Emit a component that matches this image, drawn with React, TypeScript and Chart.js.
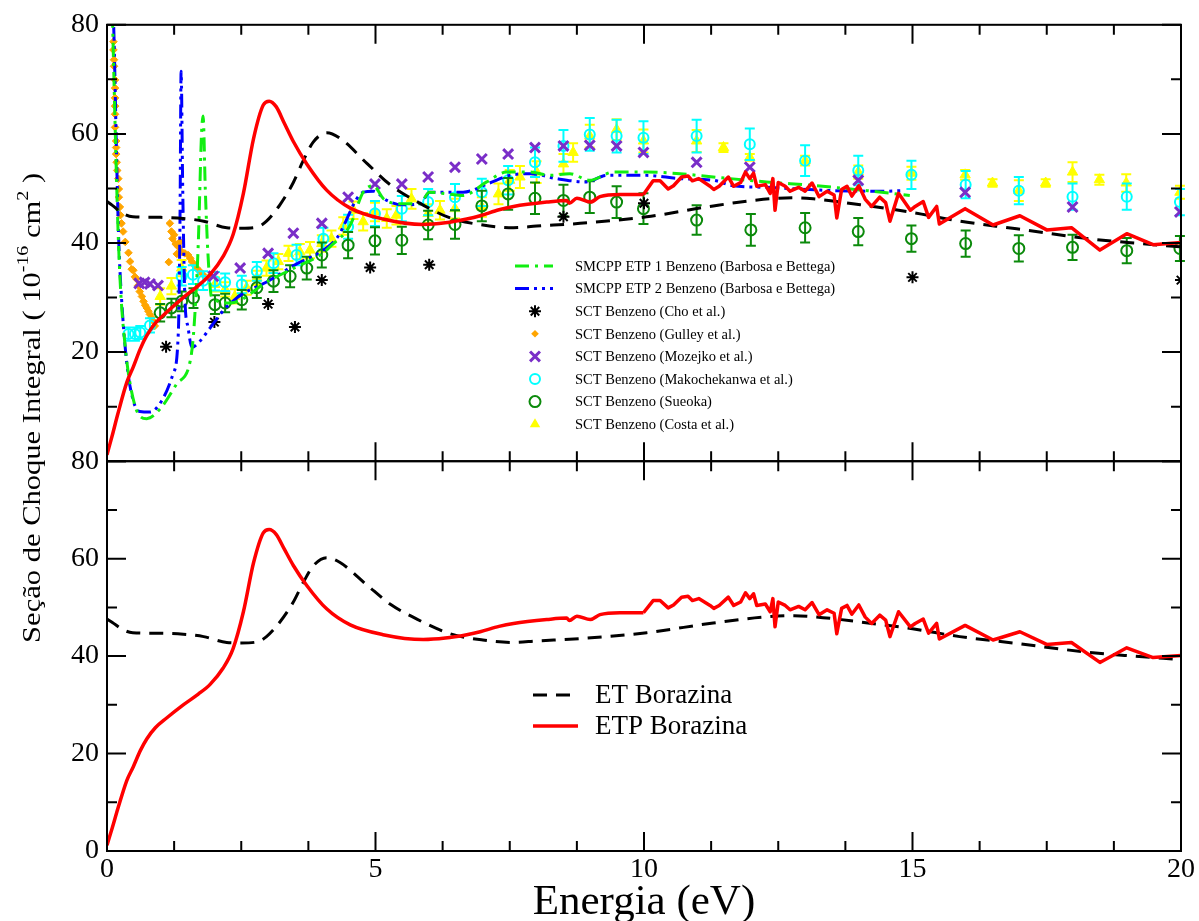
import React, { useEffect, useRef } from "react";
import { Chart, registerables } from "chart.js";
Chart.register(...registerables);

const SERIF = '"Liberation Serif", "Times New Roman", "DejaVu Serif", serif';

// ---------- axis ticks ----------
const xMajorTicks = [0, 5, 10, 15, 20];
const xMinorTicks = [1.25, 2.5, 3.75, 6.25, 7.5, 8.75, 11.25, 12.5, 13.75, 16.25, 17.5, 18.75];
const yMajorTicks = [0, 20, 40, 60, 80];
const yMinorTicks = [10, 30, 50, 70];

// ---------- ET Borazina (black dashed) ----------
const etEnergy = [0, 0.1, 0.3, 0.48, 1.0, 1.42, 1.8, 2.23, 2.5, 2.79, 2.97, 3.22, 3.47, 3.65, 3.84, 4.09, 4.34, 4.84, 5.27, 5.77, 6.39, 7.0, 7.57, 8.0, 8.81, 10.05, 11.29, 12.22, 12.8, 13.15, 14.03, 15.0, 15.88, 16.94, 18.18, 19.0, 20.0];
const etValues = [47.6, 46.9, 45.4, 44.8, 44.7, 44.5, 44.0, 42.8, 42.7, 42.9, 44.0, 47.0, 51.1, 55.0, 58.5, 60.2, 59.2, 54.6, 50.7, 47.6, 44.6, 43.3, 42.8, 43.1, 43.6, 44.8, 46.8, 48.0, 48.3, 48.1, 47.0, 45.6, 44.0, 42.6, 40.9, 40.1, 39.3];

// ---------- ETP Borazina (red) ----------
const etpEnergy = [0, 0.1, 0.2, 0.37, 0.49, 0.62, 0.74, 0.9, 1.11, 1.42, 1.7, 1.92, 2.16, 2.35, 2.54, 2.73, 2.91, 3.02, 3.15, 3.3, 3.47, 3.72, 4.09, 4.53, 5.14, 5.89, 6.3, 6.7, 6.95, 7.3, 7.57, 8.19, 8.56, 8.61, 8.75, 9.0, 9.18, 9.55, 9.99, 10.17, 10.3, 10.45, 10.55, 10.7, 10.82, 10.9, 11.02, 11.23, 11.3, 11.4, 11.57, 11.67, 11.8, 11.89, 11.97, 12.04, 12.1, 12.26, 12.35, 12.4, 12.44, 12.5, 12.63, 12.72, 12.88, 13.0, 13.13, 13.26, 13.41, 13.54, 13.59, 13.68, 13.78, 13.87, 14.0, 14.12, 14.24, 14.39, 14.5, 14.58, 14.74, 14.96, 15.05, 15.2, 15.3, 15.45, 15.5, 15.98, 16.5, 17.0, 17.5, 17.96, 18.49, 18.99, 19.48, 20.0];
const etpValues = [1.2, 4.8, 8.6, 14.5, 17.3, 20.6, 23.0, 25.3, 27.3, 30.0, 32.2, 34.2, 37.5, 41.6, 49.1, 59.2, 65.3, 66.0, 65.0, 62.0, 58.6, 54.5, 49.7, 46.4, 44.4, 43.4, 43.7, 44.4, 45.0, 46.1, 46.7, 47.5, 47.8, 47.3, 48.2, 47.5, 48.5, 48.9, 48.9, 51.4, 51.4, 49.9, 50.5, 52.1, 52.3, 51.4, 51.8, 50.4, 49.8, 50.4, 52.1, 50.4, 51.1, 53.0, 51.8, 52.8, 50.4, 50.7, 49.1, 51.8, 46.0, 51.1, 50.4, 49.5, 50.2, 49.5, 51.0, 48.5, 49.5, 48.8, 44.6, 49.8, 50.4, 48.6, 50.5, 48.0, 46.7, 48.4, 47.4, 44.0, 49.1, 46.0, 46.7, 47.6, 44.7, 46.7, 43.5, 46.3, 43.3, 45.0, 42.4, 42.8, 38.7, 41.7, 39.7, 40.1];
// the curve is smooth up to this energy and jagged (straight segments) after it
const etpSmoothEnd = 9.99;

// ---------- SMCPP ETP 1 Benzeno (green) ----------
const smcpp1Energy = [0.1, 0.15, 0.2, 0.25, 0.34, 0.43, 0.58, 0.74, 0.99, 1.3, 1.55, 1.62, 1.7, 1.76, 1.79, 1.83, 1.88, 1.95, 2.3, 3.0, 3.5, 4.0, 4.15, 4.53, 4.77, 4.96, 5.15, 5.5, 5.83, 6.0, 6.33, 6.63, 7.07, 7.44, 7.88, 8.25, 8.62, 8.99, 9.43, 10.05, 10.67, 11.29, 12.28, 13.2, 14.15, 14.95];
const smcpp1Values = [82, 62, 44, 32, 20.9, 14.2, 8.7, 7.8, 9.6, 14.2, 18.4, 24.5, 40, 60, 63.3, 50, 38, 30, 29, 33, 35.5, 38, 39.3, 43.3, 49.3, 50.5, 48.1, 47.2, 47.2, 49.3, 49.0, 48.7, 51.2, 53.0, 53.0, 52.4, 52.7, 51.5, 53.0, 53.0, 52.7, 52.1, 51.2, 50.5, 49.6, 48.7];

// ---------- SMCPP ETP 2 Benzeno (blue) ----------
const smcpp2Energy = [0.1, 0.13, 0.18, 0.22, 0.27, 0.37, 0.49, 0.61, 0.8, 1.02, 1.23, 1.33, 1.36, 1.38, 1.41, 1.45, 1.51, 1.58, 1.73, 1.85, 2.2, 2.5, 3.0, 3.5, 4.0, 4.28, 4.77, 4.96, 5.21, 5.5, 5.83, 6.01, 6.63, 7.1, 7.5, 7.9, 8.37, 8.93, 9.3, 10.05, 10.67, 11.29, 11.66, 12.28, 13.53, 14.52, 14.8];
const smcpp2Values = [86, 78, 55, 40, 30, 17.8, 11.1, 9.1, 9.0, 11.1, 16, 24, 45, 71.5, 50, 30, 24.5, 20.9, 22, 23.5, 28, 30.5, 33, 36, 38.5, 40.9, 49.3, 49.5, 47.8, 47.0, 47.2, 49.3, 49.3, 50.9, 52.4, 52.7, 51.8, 51.2, 52.4, 52.4, 51.8, 51.5, 50.5, 50.2, 49.6, 49.5, 49.6];

// ---------- SCT Benzeno (Cho et al.) ----------
const choEnergy = [1.1, 2.0, 3.0, 3.5, 4.0, 4.9, 6.0, 8.5, 10.0, 15.0, 20.0];
const choValues = [21.0, 25.5, 28.8, 24.6, 33.2, 35.5, 36.0, 44.8, 47.3, 33.7, 33.2];

// ---------- SCT Benzeno (Gulley et al.) ----------
const gulleyEnergy = [0.12, 0.12, 0.13, 0.13, 0.15, 0.15, 0.15, 0.15, 0.15, 0.15, 0.17, 0.17, 0.17, 0.18, 0.19, 0.21, 0.22, 0.22, 0.24, 0.25, 0.27, 0.3, 0.34, 0.4, 0.43, 0.46, 0.49, 0.52, 0.55, 0.58, 0.61, 0.65, 0.68, 0.71, 0.74, 0.77, 0.8, 0.83, 0.86, 0.89, 1.15, 1.17, 1.2, 1.22, 1.25, 1.28, 1.3, 1.33, 1.36, 1.39, 1.45, 1.51, 1.55, 1.58, 1.62, 1.67, 1.73, 1.79];
const gulleyValues = [76.9, 75.4, 73.6, 72.4, 69.9, 68.4, 66.6, 65.1, 63.6, 61.2, 58.7, 57.5, 56.3, 54.8, 53.3, 51.8, 49.9, 48.4, 46.6, 45.1, 43.6, 42.1, 40.2, 38.2, 36.6, 35.2, 35.0, 33.8, 33.4, 32.2, 31.1, 30.2, 29.3, 28.6, 28.1, 27.5, 26.9, 26.3, 25.7, 24.8, 36.5, 43.6, 42.1, 40.8, 41.5, 39.8, 38.0, 39.3, 40.2, 38.4, 38.1, 37.8, 37.2, 36.6, 36.0, 35.4, 34.8, 34.2];

// ---------- SCT Benzeno (Mozejko et al.) ----------
const mozejkoEnergy = [0.6, 0.7, 0.8, 0.95, 1.98, 2.48, 3.0, 3.47, 4.0, 4.49, 4.99, 5.49, 5.98, 6.48, 6.98, 7.47, 7.97, 8.5, 8.99, 9.49, 9.99, 10.98, 11.97, 13.99, 15.98, 17.98, 19.98];
const mozejkoValues = [32.6, 32.8, 32.5, 32.2, 33.9, 35.4, 38.1, 41.8, 43.6, 48.4, 50.8, 50.8, 52.1, 53.9, 55.4, 56.3, 57.5, 57.8, 57.9, 57.8, 56.6, 54.8, 53.9, 51.5, 49.3, 46.6, 45.7];

// ---------- SCT Benzeno (Makochekanwa et al.) ----------
const makoEnergy = [0.4, 0.52, 0.62, 0.8, 1.39, 1.6, 1.79, 2.01, 2.2, 2.51, 2.79, 3.1, 3.53, 4.03, 4.49, 4.99, 5.49, 5.98, 6.48, 6.98, 7.47, 7.97, 8.5, 8.99, 9.49, 9.99, 10.98, 11.97, 13.0, 13.99, 14.98, 15.99, 16.98, 17.98, 18.99, 19.98];
const makoValues = [23.3, 23.3, 23.6, 24.9, 33.9, 34.2, 33.1, 33.0, 32.8, 32.4, 34.8, 36.3, 37.8, 40.8, 43.0, 45.4, 46.3, 47.5, 48.4, 49.3, 51.5, 54.8, 57.8, 59.9, 59.6, 59.3, 59.6, 58.1, 55.1, 53.3, 52.5, 50.7, 49.6, 48.5, 48.5, 47.5];
const makoErrors = [1.2, 1.2, 1.2, 1.3, 1.7, 1.7, 1.7, 1.7, 1.6, 1.6, 1.7, 1.8, 1.9, 2.0, 2.2, 2.3, 2.3, 2.4, 2.4, 2.5, 2.6, 2.7, 2.9, 3.0, 3.0, 3.0, 3.0, 2.9, 2.8, 2.7, 2.6, 2.5, 2.5, 2.4, 2.4, 2.4];

// ---------- SCT Benzeno (Sueoka) ----------
const sueokaEnergy = [0.99, 1.2, 1.39, 1.61, 2.01, 2.2, 2.51, 2.79, 3.1, 3.41, 3.72, 4.0, 4.49, 4.99, 5.49, 5.98, 6.48, 6.98, 7.47, 7.97, 8.5, 8.99, 9.49, 9.99, 10.98, 11.99, 13.0, 13.99, 14.98, 15.99, 16.98, 17.98, 18.99, 19.98];
const sueokaValues = [27.2, 28.1, 29.3, 29.9, 28.7, 29.0, 29.6, 31.8, 33.0, 33.9, 35.4, 37.8, 39.6, 40.4, 40.5, 43.3, 43.4, 46.8, 49.0, 48.2, 47.8, 48.4, 47.5, 46.3, 44.2, 42.4, 42.8, 42.1, 40.8, 39.9, 39.0, 39.2, 38.6, 39.0];
const sueokaErrors = [1.6, 1.7, 1.8, 1.8, 1.7, 1.7, 1.8, 1.9, 2.0, 2.0, 2.1, 2.3, 2.4, 2.5, 2.5, 2.6, 2.6, 2.8, 2.9, 2.9, 2.9, 2.9, 2.9, 2.8, 2.7, 2.9, 2.7, 2.5, 2.4, 2.4, 2.4, 2.3, 2.3, 2.3];

// ---------- SCT Benzeno (Costa et al.) ----------
const costaEnergy = [0.99, 1.2, 1.39, 2.01, 2.2, 2.38, 2.6, 2.79, 2.97, 3.19, 3.38, 3.59, 3.78, 4.0, 4.18, 4.4, 4.59, 4.77, 4.99, 5.21, 5.39, 5.67, 5.98, 6.2, 6.48, 6.98, 7.29, 7.5, 7.69, 8.0, 8.5, 8.68, 8.99, 9.49, 9.99, 10.98, 11.48, 11.97, 13.0, 13.99, 14.98, 15.98, 16.49, 16.98, 17.48, 17.98, 18.48, 18.98, 19.98];
const costaValues = [30.2, 32.1, 35.4, 32.4, 31.5, 30.2, 31.8, 33.6, 35.4, 36.6, 38.1, 38.4, 38.7, 39.9, 40.8, 43.1, 46.0, 43.9, 45.7, 44.5, 45.1, 48.1, 45.4, 46.0, 46.3, 46.6, 49.0, 51.5, 52.1, 53.0, 54.5, 56.6, 59.6, 60.8, 58.7, 58.7, 57.5, 55.7, 55.1, 53.0, 52.8, 52.5, 51.0, 49.6, 51.0, 53.0, 51.6, 51.0, 49.3];
const costaErrors = [1.5, 1.5, 1.5, 1.3, 1.3, 1.3, 1.3, 1.3, 1.4, 1.4, 1.4, 1.4, 1.5, 1.5, 1.5, 1.6, 1.6, 1.6, 1.7, 1.7, 1.7, 1.8, 1.7, 1.7, 1.8, 1.8, 1.9, 1.9, 2.0, 2.0, 1.8, 1.7, 2.1, 1.9, 2.1, 2.0, 0.8, 0.6, 0.9, 1.2, 1.2, 0.9, 0.7, 1.9, 0.7, 1.8, 0.9, 1.6, 1.2];

// ---------- texts ----------
const xAxisTitle = "Energia (eV)";
const yTitleParts = ["Seção de Choque Integral ( 10", "-16", " cm", "2", " )"];
const bottomLegendOrder = ["ET Borazina", "ETP Borazina"];

const pts = (xs: number[], ys: number[]) => xs.map((x, i) => ({ x, y: ys[i] }));

const GREEN = "#11ee11";
const BLUE = "#0000ff";
const RED = "#ff0000";
const ORANGE = "#ffa500";
const PURPLE = "#7a2ec8";
const CYAN = "#00ffff";
const DKGREEN = "#0b8a0b";
const YELLOW = "#ffff00";

function lineDs(label: string, xs: number[], ys: number[], axis: string, color: string, width: number, dash: number[], order: number, legend: string, smooth = true) {
  return {
    label, data: pts(xs, ys), xAxisID: "x", yAxisID: axis, showLine: true,
    borderColor: color, backgroundColor: color, borderWidth: width, borderDash: dash,
    pointRadius: 0, pointHoverRadius: 0, fill: false,
    cubicInterpolationMode: smooth ? "monotone" : "default", tension: 0,
    borderJoinStyle: "round",
    order, legendPanel: legend,
  };
}

function markDs(label: string, xs: number[], ys: number[], style: string, radius: number, stroke: string, fill: string, bw: number, order: number, errors?: number[]) {
  return {
    label, data: pts(xs, ys), xAxisID: "x", yAxisID: "yTop", showLine: false,
    pointStyle: style, pointRadius: radius, pointHoverRadius: radius,
    pointBorderColor: stroke, pointBackgroundColor: fill, pointBorderWidth: bw,
    borderColor: stroke, backgroundColor: fill, order, errors, legendPanel: "top",
  };
}

function drawMarker(ctx: CanvasRenderingContext2D, style: string, x: number, y: number, r: number, stroke: string, fill: string, lw: number) {
  ctx.save();
  ctx.strokeStyle = stroke; ctx.fillStyle = fill; ctx.lineWidth = lw;
  ctx.beginPath();
  if (style === "star") {
    for (let k = 0; k < 4; k++) {
      const a = (k * Math.PI) / 4;
      ctx.moveTo(x + Math.cos(a) * r, y + Math.sin(a) * r);
      ctx.lineTo(x - Math.cos(a) * r, y - Math.sin(a) * r);
    }
    ctx.stroke();
  } else if (style === "rectRot") {
    ctx.moveTo(x, y - r); ctx.lineTo(x + r, y); ctx.lineTo(x, y + r); ctx.lineTo(x - r, y); ctx.closePath(); ctx.fill();
  } else if (style === "crossRot") {
    const d = r * 0.707;
    ctx.moveTo(x - d, y - d); ctx.lineTo(x + d, y + d); ctx.moveTo(x + d, y - d); ctx.lineTo(x - d, y + d); ctx.stroke();
  } else if (style === "circle") {
    ctx.arc(x, y, r, 0, Math.PI * 2); ctx.stroke();
  } else if (style === "triangle") {
    const h = r * 1.5;
    ctx.moveTo(x, y - h * 0.66); ctx.lineTo(x + r * 0.87, y + h * 0.34); ctx.lineTo(x - r * 0.87, y + h * 0.34); ctx.closePath(); ctx.fill();
  }
  ctx.restore();
}

const errorBarPlugin = {
  id: "errorBars",
  afterDatasetDraw(chart: any, args: any) {
    const ds = chart.data.datasets[args.index];
    if (!ds.errors) return;
    const meta = args.meta;
    const ys = chart.scales[meta.yAxisID];
    const ctx = chart.ctx as CanvasRenderingContext2D;
    ctx.save();
    ctx.strokeStyle = ds.pointBorderColor;
    ctx.lineWidth = 2;
    ctx.setLineDash([]);
    ctx.beginPath();
    meta.data.forEach((el: any, i: number) => {
      const p = ds.data[i];
      const e = ds.errors[i];
      const x = el.x;
      const y1 = ys.getPixelForValue(p.y + e);
      const y2 = ys.getPixelForValue(p.y - e);
      ctx.moveTo(x, y1); ctx.lineTo(x, y2);
      ctx.moveTo(x - 5, y1); ctx.lineTo(x + 5, y1);
      ctx.moveTo(x - 5, y2); ctx.lineTo(x + 5, y2);
    });
    ctx.stroke();
    ctx.restore();
  },
};

const framePlugin = {
  id: "frames",
  afterDatasetsDraw(chart: any) {
    const ctx = chart.ctx as CanvasRenderingContext2D;
    const xs = chart.scales.x;
    ctx.save();
    ctx.strokeStyle = "#000";
    ctx.lineWidth = 2;
    ctx.setLineDash([]);
    for (const id of ["yTop", "yBot"]) {
      const ys = chart.scales[id];
      const top = ys.top, bottom = ys.bottom, left = xs.left, right = xs.right;
      ctx.strokeRect(left, top, right - left, bottom - top);
      ctx.beginPath();
      const xt = (v: number, L: number) => {
        const px = xs.getPixelForValue(v);
        ctx.moveTo(px, bottom); ctx.lineTo(px, bottom - L);
        ctx.moveTo(px, top); ctx.lineTo(px, top + L);
      };
      const yt = (v: number, L: number) => {
        const py = ys.getPixelForValue(v);
        ctx.moveTo(left, py); ctx.lineTo(left + L, py);
        ctx.moveTo(right, py); ctx.lineTo(right - L, py);
      };
      xMajorTicks.forEach((v) => xt(v, 19));
      xMinorTicks.forEach((v) => xt(v, 10));
      yMajorTicks.forEach((v) => yt(v, 19));
      yMinorTicks.forEach((v) => yt(v, 10));
      ctx.stroke();
    }
    ctx.restore();
  },
};

const textPlugin = {
  id: "texts",
  afterDraw(chart: any) {
    const ctx = chart.ctx as CanvasRenderingContext2D;
    const xs = chart.scales.x;
    const yTop = chart.scales.yTop;
    const yBot = chart.scales.yBot;
    ctx.save();
    ctx.fillStyle = "#000";
    // x title
    ctx.font = `43px ${SERIF}`;
    ctx.textAlign = "center";
    ctx.textBaseline = "alphabetic";
    ctx.fillText(xAxisTitle, (xs.left + xs.right) / 2, 914);

    // y title (rotated)
    ctx.save();
    ctx.translate(40, (yTop.top + yBot.bottom) / 2 - 30);
    ctx.rotate(-Math.PI / 2);
    const big = `26px ${SERIF}`, small = `17px ${SERIF}`;
    const fonts = [big, small, big, small, big];
    const rise = [0, -12, 0, -12, 0];
    const widths = yTitleParts.map((t, i) => { ctx.font = fonts[i]; return ctx.measureText(t).width; });
    const total = widths.reduce((a, b) => a + b, 0);
    const target = 470;
    ctx.scale(target / total, 1);
    let cx = -total / 2;
    ctx.textAlign = "left";
    yTitleParts.forEach((t, i) => { ctx.font = fonts[i]; ctx.fillText(t, cx, rise[i]); cx += widths[i]; });
    ctx.restore();

    // top legend
    const topSets = chart.data.datasets.filter((d: any) => d.legendPanel === "top");
    ctx.textAlign = "left";
    ctx.textBaseline = "middle";
    ctx.font = `14.5px ${SERIF}`;
    topSets.forEach((d: any, i: number) => {
      const y = 266 + i * 22.6;
      if (d.showLine) {
        ctx.save();
        ctx.strokeStyle = d.borderColor; ctx.lineWidth = d.borderWidth; ctx.setLineDash(d.borderDash || []);
        ctx.beginPath(); ctx.moveTo(515, y); ctx.lineTo(553, y); ctx.stroke();
        ctx.restore();
      } else {
        drawMarker(ctx, d.pointStyle, 535, y, d.pointRadius, d.pointBorderColor, d.pointBackgroundColor, d.pointBorderWidth);
      }
      ctx.fillStyle = "#000";
      ctx.fillText(d.label, 575, y + 1);
    });

    // bottom legend
    ctx.font = `27px ${SERIF}`;
    bottomLegendOrder.forEach((lab, i) => {
      const d = chart.data.datasets.find((s: any) => s.legendPanel === "bottom" && s.label === lab);
      if (!d) return;
      const y = 695 + i * 31;
      ctx.save();
      ctx.strokeStyle = d.borderColor; ctx.lineWidth = d.borderWidth; ctx.setLineDash(d.borderDash || []);
      ctx.beginPath(); ctx.moveTo(533, y); ctx.lineTo(578, y); ctx.stroke();
      ctx.restore();
      ctx.fillStyle = "#000";
      ctx.fillText(d.label, 595, y + 1);
    });
    ctx.restore();
  },
};

export default function App() {
  const ref = useRef<HTMLCanvasElement>(null);
  useEffect(() => {
    if (!ref.current) return;
    const tickFont = { family: SERIF, size: 28 };
    const yCommon = (weight: number, stackWeight: number, hideZero: boolean) => ({
      type: "linear", position: "left", stack: "panels", stackWeight, weight,
      min: 0, max: 80,
      ticks: {
        stepSize: 20, font: tickFont, color: "#000", padding: 8,
        callback: (v: any) => (hideZero && Number(v) === 0 ? "" : String(v)),
      },
      grid: { display: false, drawTicks: false },
      border: { display: false },
      afterFit: (s: any) => { s.width = 107; },
    });
    const k = etpEnergy.indexOf(etpSmoothEnd);
    const etpE1 = etpEnergy.slice(0, k + 1), etpV1 = etpValues.slice(0, k + 1);
    const etpE2 = etpEnergy.slice(k), etpV2 = etpValues.slice(k);
    const chart = new Chart(ref.current, {
      type: "scatter",
      data: {
        datasets: [
          // bottom panel
          lineDs("ETP Borazina", etpE1, etpV1, "yBot", RED, 3.5, [], 0, "bottom"),
          lineDs("ETP Borazina", etpE2, etpV2, "yBot", RED, 3.5, [], 0, "none", false),
          lineDs("ET Borazina", etEnergy, etValues, "yBot", "#000", 3, [14, 9], 1, "bottom"),
          // top panel
          lineDs("ETP Borazina", etpE1, etpV1, "yTop", RED, 3.5, [], 0, "none"),
          lineDs("ETP Borazina", etpE2, etpV2, "yTop", RED, 3.5, [], 0, "none", false),
          lineDs("ET Borazina", etEnergy, etValues, "yTop", "#000", 3, [14, 9], 1, "none"),
          lineDs("SMCPP ETP 1 Benzeno (Barbosa e Bettega)", smcpp1Energy, smcpp1Values, "yTop", GREEN, 3, [14, 6, 3, 6], 2, "top"),
          lineDs("SMCPP ETP 2 Benzeno (Barbosa e Bettega)", smcpp2Energy, smcpp2Values, "yTop", BLUE, 3, [14, 5, 3, 5, 3, 5], 3, "top"),
          markDs("SCT Benzeno (Cho et al.)", choEnergy, choValues, "star", 6, "#000", "#000", 2, 4),
          markDs("SCT Benzeno (Gulley et al.)", gulleyEnergy, gulleyValues, "rectRot", 3.8, ORANGE, ORANGE, 1, 9),
          markDs("SCT Benzeno (Mozejko et al.)", mozejkoEnergy, mozejkoValues, "crossRot", 7, PURPLE, PURPLE, 3, 5),
          markDs("SCT Benzeno (Makochekanwa et al.)", makoEnergy, makoValues, "circle", 5, CYAN, "rgba(0,0,0,0)", 2, 7, makoErrors),
          markDs("SCT Benzeno (Sueoka)", sueokaEnergy, sueokaValues, "circle", 5.5, DKGREEN, "rgba(0,0,0,0)", 2, 6, sueokaErrors),
          markDs("SCT Benzeno (Costa et al.)", costaEnergy, costaValues, "triangle", 6, YELLOW, YELLOW, 1, 8, costaErrors),
        ] as any,
      },
      options: {
        responsive: false,
        animation: false,
        events: [],
        layout: { padding: { left: 0, right: 18, top: 18, bottom: 0 } },
        plugins: { legend: { display: false }, tooltip: { enabled: false }, title: { display: false } },
        scales: {
          x: {
            type: "linear", position: "bottom", min: 0, max: 20,
            ticks: { stepSize: 5, font: tickFont, color: "#000", padding: 2, maxRotation: 0 },
            grid: { display: false, drawTicks: false },
            border: { display: false },
            afterFit: (s: any) => { s.height = 70; },
          },
          yTop: yCommon(2, 440, true),
          yBot: yCommon(1, 393, false),
        } as any,
      },
      plugins: [errorBarPlugin, framePlugin, textPlugin],
    } as any);
    return () => chart.destroy();
  }, []);
  return (
    <div style={{ position: "absolute", left: 0, top: 0, width: 1199, height: 921, background: "#fff" }}>
      <canvas ref={ref} width={1199} height={921} style={{ display: "block" }} />
    </div>
  );
}
